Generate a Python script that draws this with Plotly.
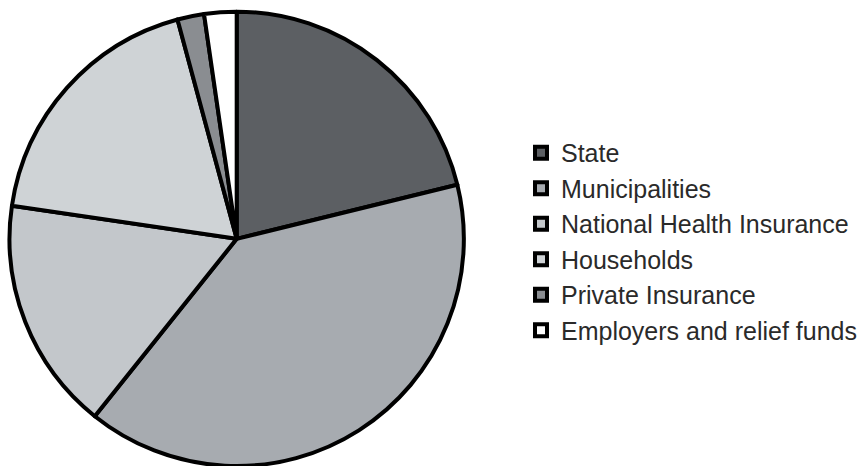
import plotly.graph_objects as go

labels = ["State", "Municipalities", "National Health Insurance", "Households",
          "Private Insurance", "Employers and relief funds"]
values = [21.2, 39.6, 16.6, 18.5, 1.9, 2.3]
colors = ["#5c5f63", "#a7abb0", "#c3c7cb", "#cfd3d6", "#8a8d91", "#ffffff"]

fig = go.Figure(go.Pie(
    labels=labels, values=values, sort=False, direction="clockwise", rotation=0,
    marker=dict(colors=colors, line=dict(color="#000000", width=4)),
    textinfo="none", hoverinfo="label+percent",
    domain=dict(x=[0.0104, 0.5394], y=[0.0, 0.975]),
))

fig.update_layout(
    width=862, height=466,
    margin=dict(l=0, r=0, t=0, b=0),
    paper_bgcolor="white", plot_bgcolor="white",
    legend=dict(x=0.605, y=0.482, xanchor="left", yanchor="middle",
                font=dict(family="Liberation Sans, Arial", size=25, color="#2a2a2a"),
                bgcolor="rgba(0,0,0,0)"),
)

fig.write_html("out.html")
